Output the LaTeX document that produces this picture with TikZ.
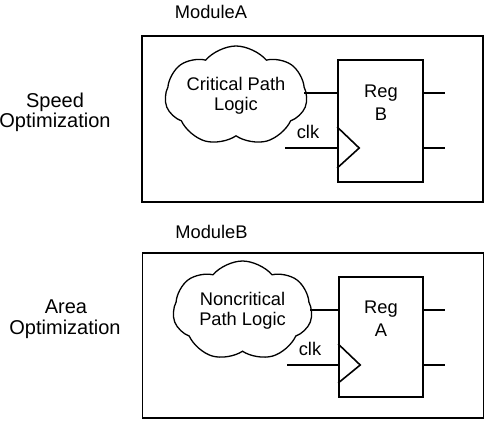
\documentclass[tikz,border=0pt]{standalone}
\usepackage{fontspec}
\setmainfont{Liberation Sans}
\usetikzlibrary{shapes.symbols,calc}
\begin{document}
\begin{tikzpicture}[x=1pt,y=-1pt, line width=1.6pt,
  lbl/.style={font=\fontsize{18.3}{20.5}\selectfont, inner sep=0pt, anchor=base},
  side/.style={font=\fontsize{20}{20.5}\selectfont, inner sep=0pt, anchor=base},
  module/.style={draw, minimum width=341pt, inner sep=0pt},
  regbox/.style={draw, minimum width=85pt, inner sep=0pt},
  logic/.style={draw, cloud, cloud puffs=7, cloud puff arc=100, cloud ignores aspect,
    minimum width=142pt, minimum height=100pt, inner sep=0pt, line width=1.3pt,
    font=\fontsize{18.3}{20.5}\selectfont, align=center}]
\useasboundingbox (0,0) rectangle (489,424);

% ---------- Module A ----------
\node[lbl] (modA) at (211,18.5) {ModuleA};
\node[module, minimum height=166pt] (boxA) at (312.5,119) {};
\node[side] (spd1) at (55,107) {Speed};
\node[side] (spd2) at (55,127) {Optimization};
\node[logic] (cloudA) at (236,96) {Critical Path\\Logic};
\node[regbox, minimum height=122pt] (regB) at (380.5,121) {};
\node[lbl] (regBt) at (381,97) {Reg};
\node[lbl] (regBn) at (381,120) {B};
\node[lbl] (clkA) at (308,138) {clk};
\coordinate (dA) at (304,93);
\coordinate (cA) at (285,148);
\coordinate (qA1) at (445,93);
\coordinate (qA2) at (445,148);
\draw (dA) -- (regB.west |- dA);
\draw (cA) -- (regB.west |- cA);
\draw (regB.east |- qA1) -- (qA1);
\draw (regB.east |- qA2) -- (qA2);
\draw ($(regB.west |- cA)+(0,-21)$) -- ($(regB.west |- cA)+(22,0)$) -- ($(regB.west |- cA)+(0,20)$);

% ---------- Module B ----------
\node[lbl] (modB) at (211.5,238) {ModuleB};
\node[module, minimum height=165pt] (boxB) at (313,335.5) {};
\node[side] (area1) at (66,313) {Area};
\node[side] (area2) at (65,334) {Optimization};
\node[logic, minimum width=139pt] (cloudB) at (242.5,311) {Noncritical\\Path Logic};
\node[regbox, minimum width=84pt, minimum height=120pt] (regA) at (381,337) {};
\node[lbl] (regAt) at (381,313.5) {Reg};
\node[lbl] (regAn) at (381,336.5) {A};
\node[lbl] (clkB) at (310,355) {clk};
\coordinate (dB) at (310,310);
\coordinate (cB) at (287,365);
\coordinate (qB1) at (445,310);
\coordinate (qB2) at (445,365);
\draw (dB) -- (regA.west |- dB);
\draw (cB) -- (regA.west |- cB);
\draw (regA.east |- qB1) -- (qB1);
\draw (regA.east |- qB2) -- (qB2);
\draw ($(regA.west |- cB)+(0,-21)$) -- ($(regA.west |- cB)+(22,0)$) -- ($(regA.west |- cB)+(0,18)$);
\end{tikzpicture}
\end{document}
